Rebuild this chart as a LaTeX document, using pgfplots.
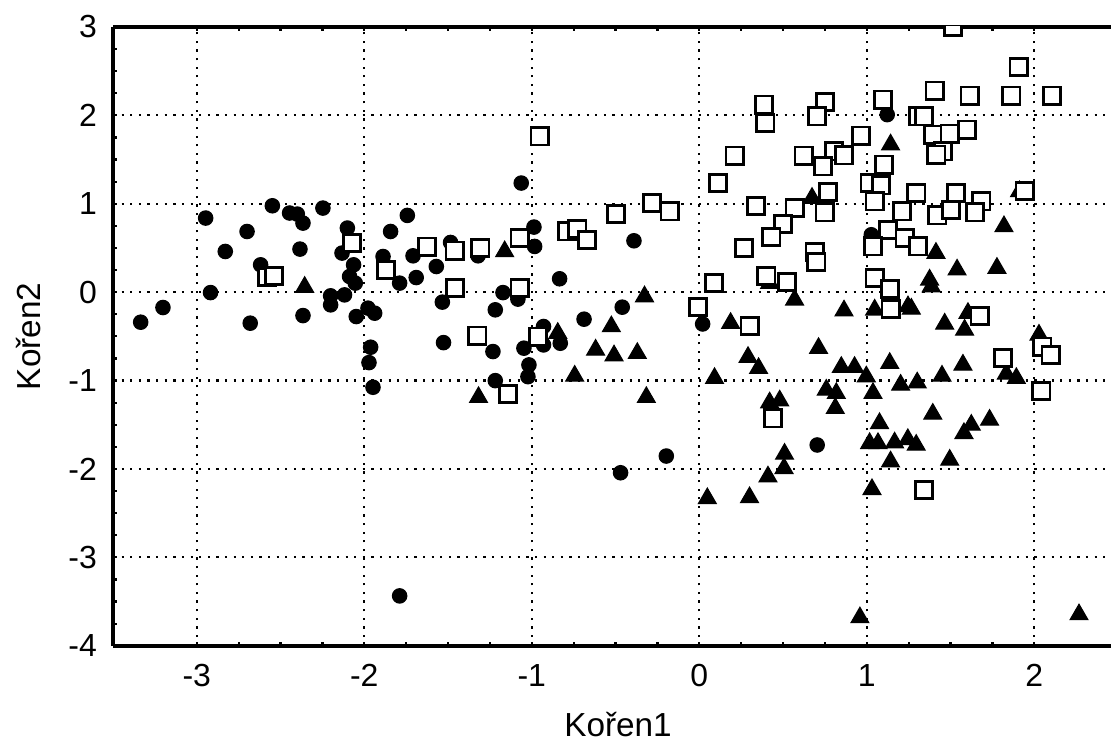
\documentclass[border=0pt]{standalone}
\usepackage{fontspec}
\setmainfont{Liberation Sans}
\usepackage{pgfplots}
\pgfplotsset{compat=1.18}
\usetikzlibrary{calc}

\begin{document}
\begin{tikzpicture}
\begin{axis}[
  name=ax,
  scale only axis,
  width=359.3pt,
  height=222.8pt,
  xmin=-3.5, xmax=2.458,
  ymin=-4, ymax=3,
  axis x line=box,
  axis y line=left,
  axis line style={-, line width=1.4pt},
  xtick={-3,...,2},
  ytick={-4,...,3},
  minor x tick num=3,
  minor y tick num=3,
  tick align=inside,
  major tick length=1.4pt,
  minor tick length=1.4pt,
  every tick/.style={black, line width=0.8pt},
  grid=major,
  major grid style={black, line width=0.8pt, dash pattern=on 0.8pt off 2.3pt},
  ticklabel style={font=\fontsize{11.5}{13}\selectfont},
  xticklabel style={yshift=-3.2pt},
  yticklabel style={xshift=-2.3pt},
  /pgf/number format/assume math mode=true,
  xlabel={Kořen1},
  ylabel={Kořen2},
  xlabel style={at={(axis description cs:0.506,-0.128)}, anchor=center, font=\fontsize{12}{14}\selectfont},
  ylabel style={at={(axis description cs:-0.085,0.5)}, anchor=center, font=\fontsize{12}{14}\selectfont},
  clip marker paths=true,
]
% circles
\addplot[only marks, mark=*, mark size=2.6pt, black] coordinates {
(-2.947,0.838) (-2.549,0.977) (-2.446,0.895) (-2.400,0.883) (-2.366,0.781)
(-2.247,0.951) (-2.700,0.686) (-2.830,0.460) (-2.384,0.487) (-2.619,0.309)
(-2.101,0.725) (-2.133,0.442) (-2.064,0.309) (-2.088,0.177) (-2.054,0.102)
(-1.843,0.686) (-1.888,0.403) (-1.789,0.102) (-2.918,-0.005) (-3.202,-0.174)
(-3.335,-0.340) (-2.681,-0.351) (-2.366,-0.265) (-2.201,-0.042) (-2.201,-0.144)
(-2.118,-0.031) (-2.048,-0.276) (-1.978,-0.181) (-1.938,-0.238) (-1.962,-0.623)
(-1.972,-0.797) (-1.948,-1.076) (-1.063,1.234) (-1.743,0.868) (-1.709,0.411)
(-1.485,0.562) (-1.570,0.290) (-1.690,0.165) (-1.321,0.411) (-0.987,0.736)
(-0.983,0.517) (-0.834,0.151) (-0.390,0.581) (-1.172,-0.005) (-1.083,-0.079)
(-1.534,-0.113) (-1.218,-0.200) (-0.460,-0.170) (-0.688,-0.306) (0.020,-0.360)
(-0.930,-0.389) (-1.527,-0.571) (-1.232,-0.672) (-1.047,-0.634) (-0.930,-0.597)
(-0.830,-0.578) (-1.017,-0.823) (-1.023,-0.956) (-1.218,-1.001) (-1.789,-3.436)
(-0.470,-2.043) (-0.197,-1.854) (1.122,2.008) (1.027,0.649) (0.704,-1.729)
};
% triangles
\addplot[only marks, mark=triangle*, mark size=3.7pt, black] coordinates {
(-2.356,0.057) (-1.162,0.460) (-0.327,-0.050) (-0.845,-0.464) (-0.525,-0.389)
(-0.619,-0.653) (-0.509,-0.718) (-0.370,-0.691) (-0.744,-0.948) (-1.318,-1.189)
(-0.316,-1.189) (0.048,-2.333) (0.300,-2.322) (0.410,-2.088) (0.506,-1.993)
(0.509,-1.831) (0.420,-1.250) (0.480,-1.228) (0.959,-3.681) (2.267,-3.647)
(1.142,1.668) (0.673,1.064) (1.819,0.743) (1.413,0.442) (1.539,0.253)
(1.777,0.272) (1.375,0.139) (1.385,0.063) (0.420,0.102) (0.569,-0.087)
(1.912,1.139) (0.864,-0.210) (1.047,-0.200) (1.246,-0.163) (1.266,-0.190)
(1.604,-0.238) (0.187,-0.351) (0.291,-0.736) (0.354,-0.861) (0.091,-0.974)
(0.712,-0.634) (0.848,-0.849) (0.927,-0.849) (0.997,-0.956) (1.037,-1.144)
(0.758,-1.106) (0.818,-1.144) (0.812,-1.314) (1.137,-0.804) (1.202,-1.050)
(1.301,-1.024) (1.449,-0.948) (1.574,-0.823) (1.465,-0.359) (1.584,-0.427)
(1.833,-0.925) (1.893,-0.974) (2.028,-0.484) (1.394,-1.378) (1.076,-1.484)
(1.017,-1.710) (1.067,-1.710) (1.166,-1.703) (1.245,-1.665) (1.295,-1.729)
(1.142,-1.918) (1.495,-1.899) (1.733,-1.446) (1.624,-1.503) (1.580,-1.597)
(1.031,-2.231)
};
% open squares
\addplot[only marks, mark=square*, mark size=3.1pt, mark options={fill=white, draw=black, line width=1pt}] coordinates {
(-2.580,0.170) (-2.540,0.180) (-2.074,0.555) (-1.872,0.253) (-1.626,0.516)
(-1.461,0.471) (-1.307,0.498) (-1.073,0.611) (-1.457,0.045) (-1.073,0.045)
(-1.325,-0.491) (-0.963,-0.503) (-1.142,-1.152) (-0.788,0.686) (-0.728,0.713)
(-0.670,0.592) (-0.496,0.887) (-0.281,1.008) (-0.177,0.913) (-0.008,-0.170)
(-0.953,1.762) (1.515,3.000) (1.906,2.544) (1.405,2.280) (1.614,2.223)
(1.863,2.223) (2.107,2.223) (1.097,2.178) (0.386,2.121) (0.752,2.148)
(0.394,1.914) (0.704,1.989) (1.306,1.989) (1.340,1.989) (0.967,1.770)
(1.395,1.781) (1.495,1.793) (1.598,1.838) (1.454,1.592) (1.415,1.555)
(0.211,1.544) (0.623,1.544) (0.804,1.592) (0.864,1.547) (0.738,1.423)
(1.103,1.442) (0.111,1.234) (1.017,1.234) (1.086,1.207) (0.768,1.132)
(1.296,1.121) (1.534,1.121) (1.942,1.147) (1.047,1.026) (0.340,0.977)
(0.569,0.951) (0.748,0.902) (1.210,0.913) (1.421,0.868) (1.504,0.932)
(1.684,1.026) (1.646,0.902) (0.500,0.773) (0.430,0.623) (0.267,0.498)
(1.127,0.706) (1.226,0.612) (1.306,0.517) (1.037,0.517) (0.689,0.453)
(0.699,0.340) (0.400,0.185) (0.525,0.113) (0.088,0.102) (1.047,0.159)
(1.137,0.034) (1.142,-0.193) (1.673,-0.268) (0.300,-0.381) (1.813,-0.747)
(2.048,-0.616) (2.097,-0.710) (2.042,-1.118) (0.440,-1.427) (1.341,-2.239)
};
\end{axis}
\pgfresetboundingbox
\useasboundingbox ($(ax.south west)+(-40.7pt,-34.3pt)$) rectangle ($(ax.north east)+(0pt,9.7pt)$);
\end{tikzpicture}
\end{document}
